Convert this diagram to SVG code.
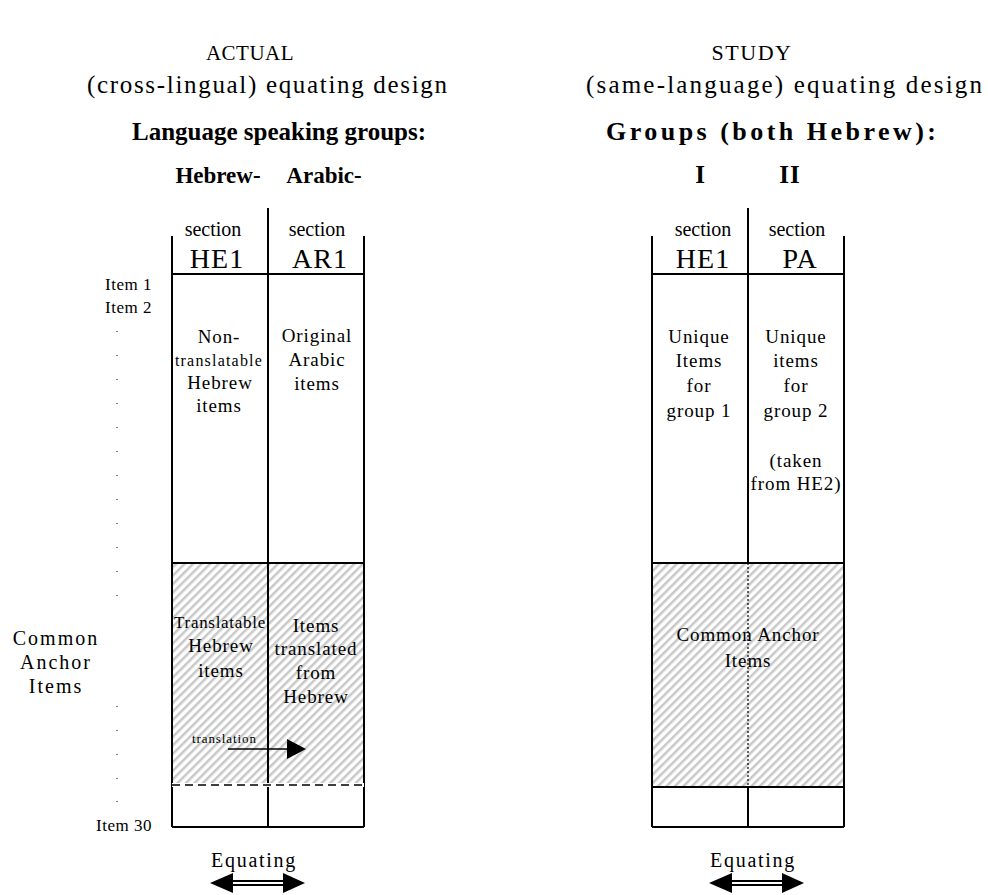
<svg xmlns="http://www.w3.org/2000/svg" width="988" height="895" viewBox="0 0 988 895">
<style>
text{font-family:"Liberation Serif","Times New Roman",serif;fill:#000}
.t{font-size:25px}
.b{font-weight:bold}
.h{font-size:23px;font-weight:bold;text-anchor:middle}
.s{font-size:17px;letter-spacing:0.5px}
.sec{font-size:20px;text-anchor:middle}
.big{font-size:28px;letter-spacing:1px;text-anchor:middle}
.c{font-size:19px;letter-spacing:0.9px;text-anchor:middle}
.m{text-anchor:middle}
.ln{stroke:#000;stroke-width:2;fill:none}
</style>
<defs>
<pattern id="hatch" patternUnits="userSpaceOnUse" width="6" height="6" patternTransform="rotate(45)">
<rect width="6" height="6" fill="#fff"/>
<rect width="2.5" height="6" fill="#c8c8c8"/>
</pattern>
</defs>
<rect width="988" height="895" fill="#fff"/>

<g id="titles">
<text class="m" x="250" y="60" font-size="21" letter-spacing="0.5">ACTUAL</text>
<text class="t" x="87" y="93" textLength="360" lengthAdjust="spacing">(cross-lingual) equating design</text>
<text class="b" x="132" y="140" font-size="25" textLength="294" lengthAdjust="spacing">Language speaking groups:</text>
<text class="m" x="752" y="60" font-size="22" letter-spacing="1.5">STUDY</text>
<text class="t" x="586" y="93" textLength="396" lengthAdjust="spacing">(same-language) equating design</text>
<text class="b" x="606" y="140" font-size="26" textLength="330" lengthAdjust="spacing">Groups (both Hebrew):</text>
</g>

<g id="item-labels">
<text class="s" x="152" y="290" text-anchor="end">Item 1</text>
<text class="s" x="152" y="313" text-anchor="end">Item 2</text>
<text class="s" x="152" y="831" text-anchor="end">Item 30</text>
<g fill="#000">
<rect x="116.5" y="331" width="1" height="1"/><rect x="116.5" y="355" width="1" height="1"/><rect x="116.5" y="379" width="1" height="1"/><rect x="116.5" y="403" width="1" height="1"/><rect x="116.5" y="427" width="1" height="1"/><rect x="116.5" y="451" width="1" height="1"/><rect x="116.5" y="475" width="1" height="1"/><rect x="116.5" y="499" width="1" height="1"/><rect x="116.5" y="523" width="1" height="1"/><rect x="116.5" y="547" width="1" height="1"/><rect x="116.5" y="571" width="1" height="1"/><rect x="116.5" y="595" width="1" height="1"/><rect x="116.5" y="706" width="1" height="1"/><rect x="116.5" y="730" width="1" height="1"/><rect x="116.5" y="754" width="1" height="1"/><rect x="116.5" y="778" width="1" height="1"/><rect x="116.5" y="801" width="1" height="1"/>
</g>
<text class="m" x="56" y="645" font-size="20" letter-spacing="2">Common</text>
<text class="m" x="56" y="669" font-size="20" letter-spacing="2">Anchor</text>
<text class="m" x="56" y="693" font-size="20" letter-spacing="2">Items</text>
</g>

<g id="actual-design">
<text class="h" x="218" y="183">Hebrew-</text>
<text class="h" x="324" y="183">Arabic-</text>
<rect x="172" y="563" width="192" height="222" fill="url(#hatch)"/>
<path class="ln" d="M172 236V827M364 236V827M268 208V827M172 274H364M172 563H364M172 827H364"/>
<line x1="172" y1="785" x2="364" y2="785" stroke="#fff" stroke-width="4"/>
<line x1="172" y1="785" x2="364" y2="785" stroke="#000" stroke-width="1.5" stroke-dasharray="8,5"/>
<text class="sec" x="213" y="236">section</text>
<text class="sec" x="317" y="236">section</text>
<text class="big" x="217" y="268">HE1</text>
<text class="big" x="320" y="268">AR1</text>
<text class="c" x="219" y="343">Non-</text>
<text class="m" x="219" y="366" font-size="16" letter-spacing="1.2">translatable</text>
<text class="c" x="220" y="389">Hebrew</text>
<text class="c" x="219" y="412">items</text>
<text class="c" x="317" y="342">Original</text>
<text class="c" x="317" y="366">Arabic</text>
<text class="c" x="317" y="390">items</text>
<text class="m" x="220" y="628" font-size="17" letter-spacing="0.7">Translatable</text>
<text class="c" x="221" y="652">Hebrew</text>
<text class="c" x="221" y="677">items</text>
<text class="c" x="316" y="632">Items</text>
<text class="c" x="316" y="655">translated</text>
<text class="c" x="316" y="679">from</text>
<text class="c" x="316" y="703">Hebrew</text>
<text x="192" y="743" font-size="13" letter-spacing="0.9">translation</text>
<line x1="228" y1="749" x2="288" y2="749" stroke="#000" stroke-width="1.5"/>
<polygon points="287,739 306,749 287,759" fill="#000"/>
</g>

<g id="study-design">
<text class="m b" x="700" y="183" font-size="25">I</text>
<text class="m b" x="790" y="183" font-size="25" letter-spacing="1">II</text>
<rect x="652" y="563" width="192" height="224" fill="url(#hatch)"/>
<path class="ln" d="M652 236V827M844 236V827M748 208V563M748 787V827M652 274H844M652 563H844M652 787H844M652 827H844"/>
<line x1="748" y1="563" x2="748" y2="787" stroke="#000" stroke-width="1.2" stroke-dasharray="2,2"/>
<text class="sec" x="703" y="236">section</text>
<text class="sec" x="797" y="236">section</text>
<text class="big" x="703" y="268">HE1</text>
<text class="big" x="800" y="268">PA</text>
<text class="c" x="699" y="343">Unique</text>
<text class="c" x="699" y="367">Items</text>
<text class="c" x="699" y="392">for</text>
<text class="c" x="699" y="417">group 1</text>
<text class="c" x="796" y="343">Unique</text>
<text class="c" x="796" y="367">items</text>
<text class="c" x="796" y="392">for</text>
<text class="c" x="796" y="417">group 2</text>
<text class="c" x="796" y="467">(taken</text>
<text class="c" x="796" y="490">from HE2)</text>
<text class="c" x="748" y="641">Common Anchor</text>
<text class="c" x="748" y="667">Items</text>
</g>

<g id="connectors">
<text class="m" x="254" y="867" font-size="20" letter-spacing="1.7">Equating</text>
<path d="M232 881H284M232 885H284" stroke="#000" stroke-width="1.8"/>
<polygon points="210,883 233,873 233,893" fill="#000"/>
<polygon points="305,883 283,873 283,893" fill="#000"/>
<text class="m" x="753" y="867" font-size="20" letter-spacing="1.7">Equating</text>
<path d="M731 881H783M731 885H783" stroke="#000" stroke-width="1.8"/>
<polygon points="709,883 732,873 732,893" fill="#000"/>
<polygon points="804,883 782,873 782,893" fill="#000"/>
</g>
</svg>
